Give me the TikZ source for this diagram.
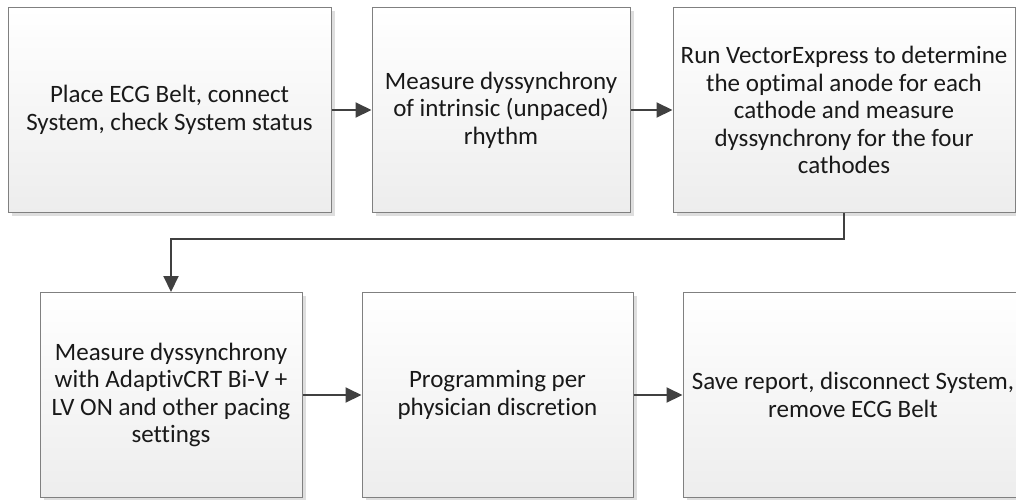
\documentclass[tikz,border=0pt]{standalone}
\usepackage{fontspec}
\setmainfont[Ligatures=NoCommon]{Carlito}
\usetikzlibrary{arrows.meta,shadows}
\tikzset{
	stepbox/.style={draw=black!50, line width=1pt, top color=white, bottom color=black!7,
		drop shadow={shadow xshift=3.5pt, shadow yshift=-3.5pt, fill=black!13, opacity=1},
		align=center, inner sep=0pt, minimum height=205pt},
	steptext/.style={align=center, inner sep=0pt},
	flow/.style={draw=black!75, line width=2pt, -{Triangle[length=16pt,width=15pt]}}
}
\begin{document}
\begin{tikzpicture}[x=1pt, y=-1pt, font=\fontsize{25}{27.5}\selectfont, text=black!90]
				\clip (0,0) rectangle (1016,499);
				
				\node[stepbox, minimum width=323pt] (b1) at (169.5,110) {Place ECG Belt, connect\\System, check System status};
				\node[stepbox, minimum width=258pt] (b2) at (501,110) {Measure dyssynchrony\\of intrinsic (unpaced)\\rhythm};
				\node[stepbox, minimum width=342pt] (b3) at (844,110) {Run VectorExpress to determine\\the optimal anode for each\\cathode and measure\\dyssynchrony for the four\\cathodes};
				
				\node[stepbox, minimum width=262pt] (b4) at (171,395) {Measure dyssynchrony\\with AdaptivCRT Bi-V +\\LV ON and other pacing\\settings};
				\node[stepbox, minimum width=271pt] (b5) at (497.5,395) {Programming per\\physician discretion};
				\node[stepbox, minimum width=347pt] (b6) at (856.5,395) {};
				\node[steptext] (b6text) at (853,395) {Save report, disconnect System,\\remove ECG Belt};
				
				\draw[flow] (b1) -- (b2);
				\draw[flow] (b2) -- (b3);
				\draw[flow] (b3.south) -- (b3.south |- 0,239) -| (b4.north);
				\draw[flow] (b4) -- (b5);
				\draw[flow] (b5) -- (b6);
				
			\end{tikzpicture}
\end{document}
